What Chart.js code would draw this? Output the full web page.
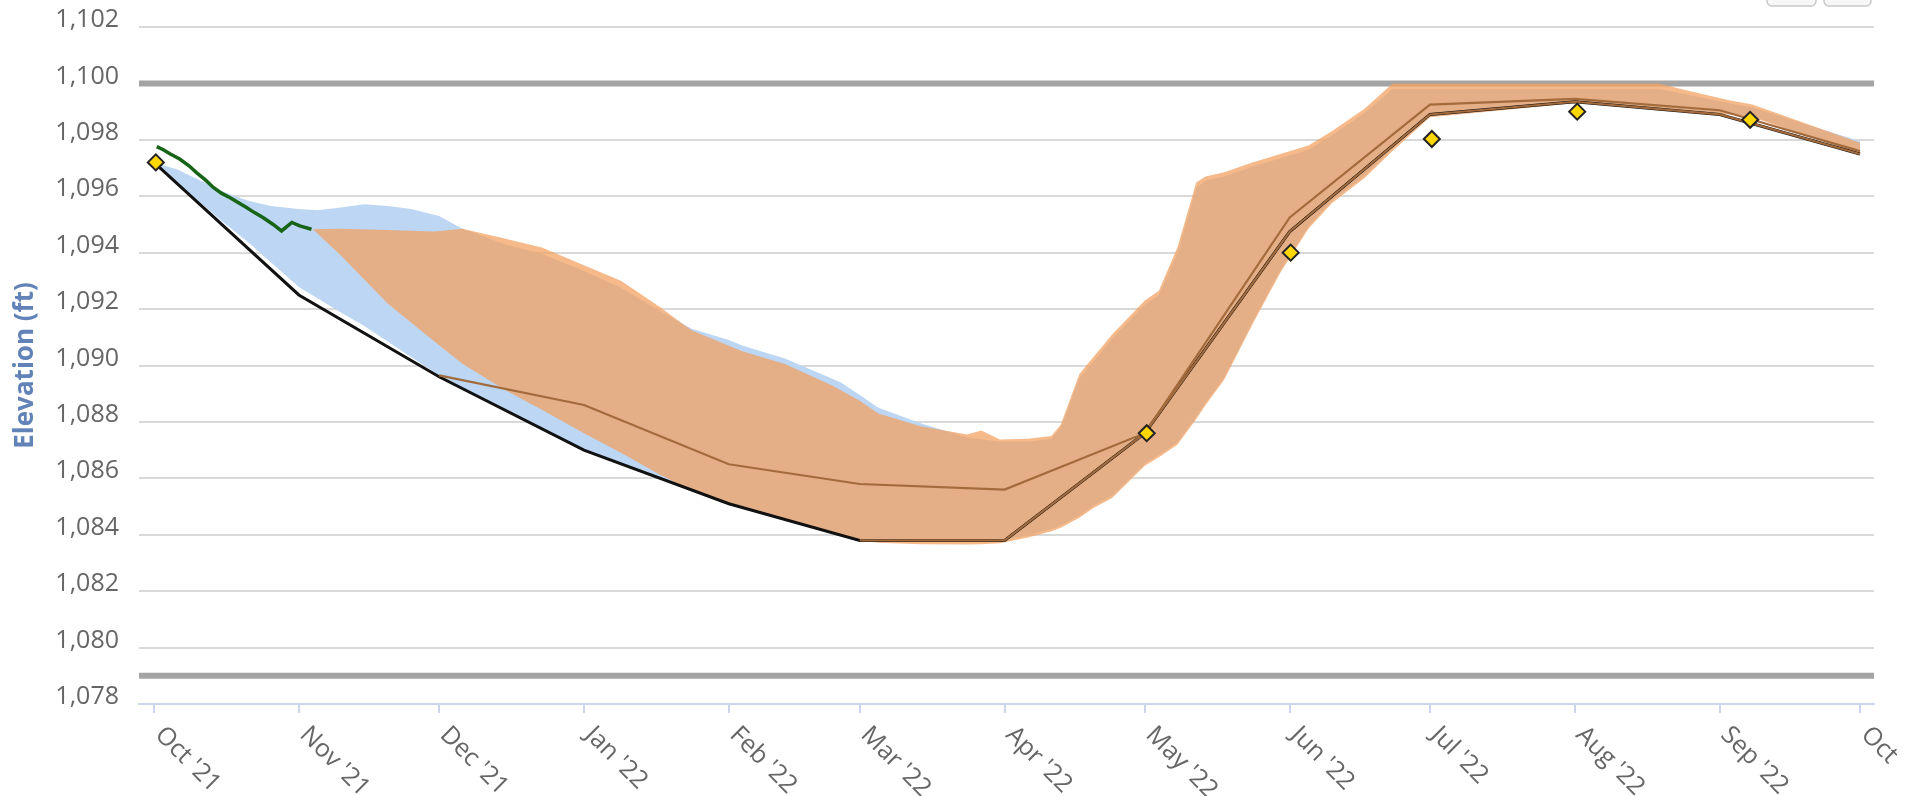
<!DOCTYPE html>
<html>
<head>
<meta charset="utf-8">
<title>Elevation (ft)</title>
<script src="https://cdn.jsdelivr.net/npm/chart.js@4.4.0/dist/chart.umd.min.js"></script>
<style>
  html, body { margin: 0; padding: 0; background: #fff; }
  #wrap { width: 1915px; height: 796px; position: relative; }
</style>
</head>
<body>
<div id="wrap"><canvas id="elev-chart"></canvas></div>
<script>
// eje x: dias desde el 1 de octubre de 2021
const xTickDays = [0, 31, 61, 92, 123, 151, 182, 212, 243, 273, 304, 335, 365];
const xTickLabels = ["Oct '21", "Nov '21", "Dec '21", "Jan '22", "Feb '22", "Mar '22", "Apr '22",
  "May '22", "Jun '22", "Jul '22", "Aug '22", "Sep '22", "Oct '22"];

const plotLineValues = [1100, 1079];

// rango azul
const blueDays = [0, 5, 10, 15, 20, 25, 31, 35, 40, 45, 50, 55, 61, 66, 75, 83, 92, 100, 108, 115,
  123, 126, 135, 147, 151, 155, 164, 174, 181, 187, 192, 194, 198, 201, 205, 212, 215, 219, 223, 225,
  229, 235, 241, 247, 252, 259, 265, 273, 304, 322, 328, 337, 342, 365];
const blueLow = [1097.2, 1096.5, 1095.76, 1095.05, 1094.4, 1093.66, 1092.78, 1092.38, 1091.88, 1091.4,
  1090.85, 1090.3, 1089.65, 1089.18, 1088.43, 1087.76, 1087.0, 1086.51, 1086.02, 1085.59,
  1085.1, 1084.96, 1084.55, 1083.99, 1083.8, 1083.78, 1083.74, 1083.74, 1083.78, 1083.98,
  1084.2, 1084.33, 1084.68, 1085.03, 1085.38, 1086.53, 1086.83, 1087.28, 1088.18, 1088.68,
  1089.58, 1091.53, 1093.38, 1094.93, 1095.83, 1096.73, 1097.68, 1098.85, 1099.33, 1099.13,
  1099.03, 1098.93, 1098.83, 1097.5];
const blueHigh = [1097.2, 1096.95, 1096.55, 1096.15, 1095.85, 1095.65, 1095.55, 1095.5, 1095.6, 1095.72,
  1095.65, 1095.55, 1095.3, 1094.85, 1094.3, 1093.95, 1093.35, 1092.75, 1091.95, 1091.3,
  1090.9, 1090.7, 1090.25, 1089.4, 1088.95, 1088.5, 1087.95, 1087.45, 1087.3, 1087.3,
  1087.4, 1087.8, 1089.55, 1090.15, 1090.95, 1092.15, 1092.5, 1094.0, 1096.3, 1096.55,
  1096.7, 1097.05, 1097.35, 1097.65, 1098.15, 1098.95, 1099.8, 1099.8, 1099.8, 1099.8,
  1099.6, 1099.3, 1099.15, 1097.95];

// rango naranja
const orangeDays = [34, 40, 50, 60, 66, 75, 83, 92, 100, 108, 115, 123, 126, 135, 145, 151, 155, 164, 174, 177,
  181, 187, 192, 194, 198, 201, 205, 212, 215, 219, 223, 225, 229, 235, 241, 247, 252, 259, 265, 273,
  304, 322, 328, 337, 342, 365];
const orangeLow = [1094.83, 1093.9, 1092.2, 1090.85, 1090.06, 1089.14, 1088.43, 1087.6, 1086.9, 1086.15,
  1085.57, 1085.1, 1084.96, 1084.55, 1084.09, 1083.8, 1083.72, 1083.66, 1083.65, 1083.66,
  1083.7, 1083.9, 1084.12, 1084.25, 1084.6, 1084.95, 1085.3, 1086.45, 1086.75, 1087.2,
  1088.1, 1088.6, 1089.5, 1091.45, 1093.3, 1094.85, 1095.75, 1096.65, 1097.6, 1098.8,
  1099.3, 1099.1, 1099.0, 1098.9, 1098.8, 1097.5];
const orangeHigh = [1094.83, 1094.85, 1094.8, 1094.75, 1094.85, 1094.5, 1094.18, 1093.55, 1093.0, 1092.1,
  1091.25, 1090.7, 1090.5, 1090.05, 1089.3, 1088.75, 1088.3, 1087.85, 1087.55, 1087.7,
  1087.38, 1087.4, 1087.5, 1087.9, 1089.7, 1090.3, 1091.1, 1092.3, 1092.65, 1094.2,
  1096.5, 1096.7, 1096.85, 1097.2, 1097.5, 1097.8, 1098.3, 1099.1, 1100.0, 1100.0,
  1100.0, 1100.0, 1099.75, 1099.4, 1099.25, 1097.9];

// lineas mensuales
const blackDays = [0, 31, 61, 92, 123, 151, 182, 212, 243, 273, 304, 335, 365];
const blackVals = [1097.2, 1092.5, 1089.6, 1087.0, 1085.1, 1083.8, 1083.8, 1087.6, 1094.75, 1098.9, 1099.35, 1098.9, 1097.5];
const maxDays = [61, 92, 123, 151, 182, 212, 243, 273, 304, 335, 365];
const maxVals = [1089.65, 1088.6, 1086.5, 1085.8, 1085.6, 1087.6, 1095.25, 1099.25, 1099.45, 1099.05, 1097.6];
const mostDays = [151, 182, 212, 243, 273, 304, 335, 365];
const mostVals = [1083.8, 1083.8, 1087.6, 1094.75, 1098.9, 1099.35, 1098.9, 1097.5];

// datos diarios (verde)
const greenDays = [0.6, 2, 3.5, 5.5, 7.5, 9.1, 11, 12.7, 14.5, 16.3, 18, 19.8, 21.5, 23.4, 25.5, 27.3, 29.5, 31.2, 33.7];
const greenVals = [1097.76, 1097.65, 1097.5, 1097.32, 1097.08, 1096.84, 1096.58, 1096.31, 1096.1, 1095.95,
  1095.78, 1095.6, 1095.42, 1095.24, 1095.0, 1094.77, 1095.07, 1094.95, 1094.83];

// rombos
const markerDays = [0.4, 212.4, 243.2, 273.4, 304.5, 341.5];
const markerVals = [1097.2, 1087.6, 1094.0, 1098.03, 1099.0, 1098.71];

const toPoints = (days, vals) => days.map((d, i) => ({ x: d, y: vals[i] }));

const FONT = "'Open Sans', 'DejaVu Sans', sans-serif";

const extrasPlugin = {
  id: 'extras',
  beforeDatasetsDraw(chart) {
    const { ctx, chartArea, scales } = chart;
    ctx.save();
    ctx.strokeStyle = '#a4a4a4';
    ctx.lineWidth = 6;
    plotLineValues.forEach(v => {
      const y = scales.y.getPixelForValue(v);
      ctx.beginPath();
      ctx.moveTo(chartArea.left, y);
      ctx.lineTo(chartArea.right, y);
      ctx.stroke();
    });
    ctx.restore();
  },
  afterDraw(chart) {
    const { ctx, chartArea, scales } = chart;

    // etiquetas del eje x giradas
    ctx.save();
    ctx.beginPath();
    ctx.rect(0, 0, 1897, chart.height);
    ctx.clip();
    ctx.font = '25px ' + FONT;
    ctx.fillStyle = '#666666';
    ctx.textAlign = 'left';
    ctx.textBaseline = 'alphabetic';
    xTickDays.forEach((d, i) => {
      const x = scales.x.getPixelForValue(d);
      ctx.save();
      ctx.translate(x, chartArea.bottom + 32);
      ctx.rotate(Math.PI / 4);
      ctx.fillText(xTickLabels[i], 0, 0);
      ctx.restore();
    });
    ctx.restore();

    // titulo del eje y
    ctx.save();
    ctx.translate(33, (chartArea.top + chartArea.bottom) / 2);
    ctx.rotate(-Math.PI / 2);
    ctx.font = 'bold 26px ' + FONT;
    ctx.fillStyle = '#6283b8';
    ctx.textAlign = 'center';
    ctx.textBaseline = 'alphabetic';
    ctx.fillText('Elevation (ft)', 0, 0);
    ctx.restore();

    // botones (cortados arriba)
    ctx.save();
    ctx.fillStyle = '#f7f7f7';
    ctx.strokeStyle = '#c8c8c8';
    ctx.lineWidth = 1.5;
    [[1767, 49], [1824, 47]].forEach(([bx, bw]) => {
      ctx.beginPath();
      ctx.roundRect(bx, -22, bw, 28, 5);
      ctx.fill();
      ctx.stroke();
    });
    ctx.restore();
  }
};

const ctx = document.querySelector('#elev-chart');

new Chart(ctx, {
  type: 'line',
  data: {
    datasets: [
      {
        label: 'Markers',
        data: toPoints(markerDays, markerVals),
        showLine: false,
        pointStyle: 'rectRot',
        pointRadius: 8,
        pointBackgroundColor: '#ffd700',
        pointBorderColor: '#222222',
        pointBorderWidth: 2,
        order: 0
      },
      {
        label: 'Actual',
        data: toPoints(greenDays, greenVals),
        borderColor: '#176417',
        borderWidth: 3.5,
        pointRadius: 0,
        order: 1
      },
      {
        label: 'Max',
        data: toPoints(maxDays, maxVals),
        borderColor: '#a36a3c',
        borderWidth: 2.2,
        pointRadius: 0,
        order: 2
      },
      {
        label: 'Most',
        data: toPoints(mostDays, mostVals),
        borderColor: '#a36a3c',
        borderWidth: 2.2,
        pointRadius: 0,
        order: 2
      },
      {
        label: 'Min',
        data: toPoints(blackDays, blackVals),
        borderColor: '#111111',
        borderWidth: 3,
        pointRadius: 0,
        order: 3
      },
      {
        label: 'Orange low',
        data: toPoints(orangeDays, orangeLow),
        borderWidth: 0,
        borderColor: 'rgba(0,0,0,0)',
        pointRadius: 0,
        order: 4
      },
      {
        label: 'Orange high',
        data: toPoints(orangeDays, orangeHigh),
        borderWidth: 0,
        borderColor: 'rgba(0,0,0,0)',
        backgroundColor: 'rgba(242, 162, 99, 0.75)',
        fill: '-1',
        pointRadius: 0,
        order: 4
      },
      {
        label: 'Blue low',
        data: toPoints(blueDays, blueLow),
        borderWidth: 0,
        borderColor: 'rgba(0,0,0,0)',
        pointRadius: 0,
        order: 6
      },
      {
        label: 'Blue high',
        data: toPoints(blueDays, blueHigh),
        borderWidth: 0,
        borderColor: 'rgba(0,0,0,0)',
        backgroundColor: '#bcd6f3',
        fill: '-1',
        pointRadius: 0,
        order: 6
      }
    ]
  },
  options: {
    responsive: true,
    maintainAspectRatio: false,
    animation: false,
    events: [],
    layout: { padding: { top: 27, right: 41, bottom: 0, left: 0 } },
    plugins: {
      legend: { display: false },
      tooltip: { enabled: false }
    },
    scales: {
      x: {
        type: 'linear',
        min: -3.2,
        max: 368,
        afterBuildTicks: (scale) => {
          scale.ticks = xTickDays.map(v => ({ value: v }));
        },
        afterFit: (scale) => { scale.height = 92; },
        ticks: { display: false },
        grid: {
          drawOnChartArea: false,
          drawTicks: true,
          tickLength: 9,
          color: '#ccd6eb',
          lineWidth: 2
        },
        border: { display: true, color: '#ccd6eb', width: 2 }
      },
      y: {
        min: 1078,
        max: 1102,
        afterFit: (scale) => {
          scale.width = 139;
          scale.paddingTop = 0;
          scale.paddingBottom = 0;
        },
        ticks: {
          stepSize: 2,
          padding: 20,
          labelOffset: -7,
          color: '#666666',
          font: { size: 25, family: FONT },
          callback: (v) => v.toLocaleString('en-US')
        },
        grid: { color: '#d9d9d9', lineWidth: 2, drawTicks: false },
        border: { display: false }
      }
    }
  },
  plugins: [extrasPlugin]
});
</script>
</body>
</html>
